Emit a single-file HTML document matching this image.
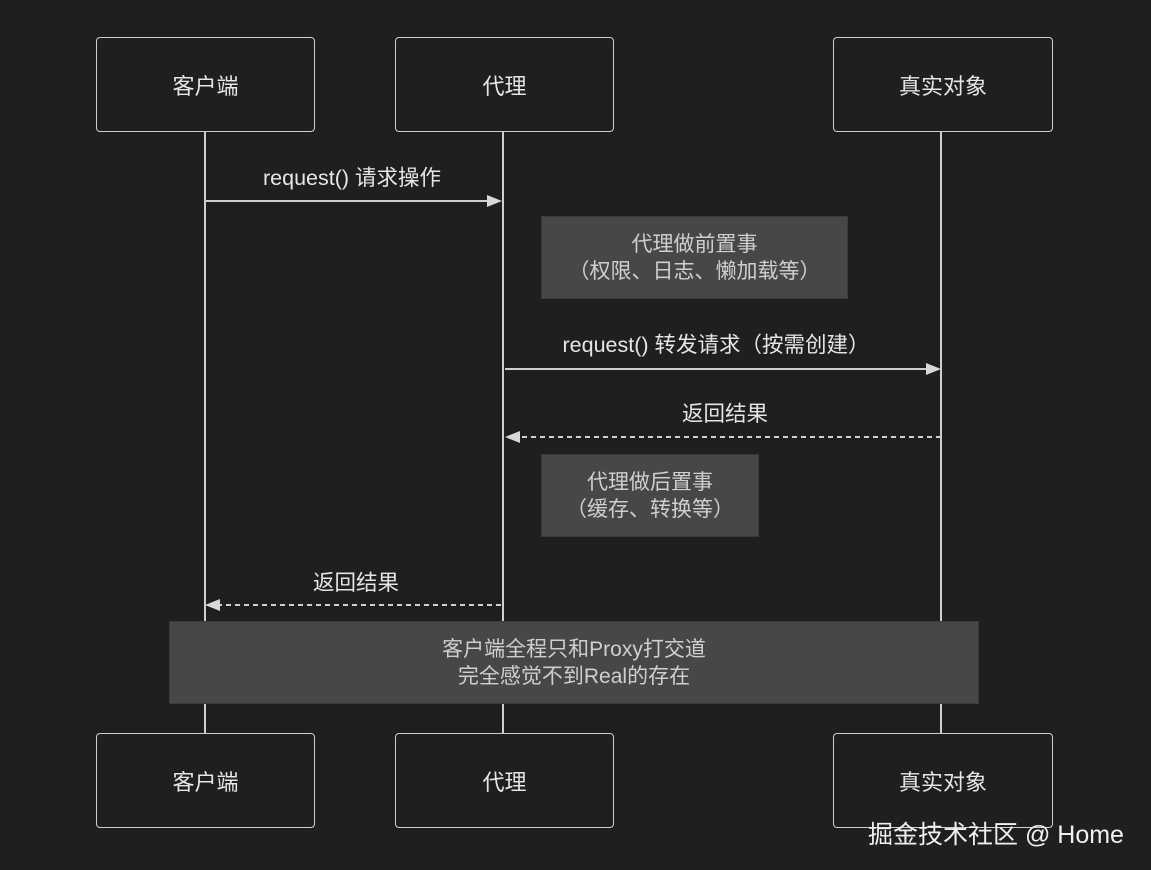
<!DOCTYPE html>
<html><head><meta charset="utf-8"><style>
html,body{margin:0;padding:0;background:#1f1f1f;}
body{width:1151px;height:870px;position:relative;overflow:hidden;font-family:"Liberation Sans","Noto Sans CJK SC",sans-serif;}
.box{position:absolute;border:1.5px solid #cfcfcf;border-radius:4px;box-sizing:border-box;color:#e6e6e6;font-size:22px;display:flex;align-items:center;justify-content:center;background:#1f1f1f;}
.note{position:absolute;background:#474747;border:1px solid #3a3a3a;box-sizing:border-box;color:#cfcfcf;font-size:21px;line-height:27px;text-align:center;display:flex;align-items:center;justify-content:center;}
.lbl{position:absolute;color:#e6e6e6;font-size:21.5px;text-align:center;transform:translateX(-50%);white-space:nowrap;}
</style></head><body>
<svg width="1151" height="870" style="position:absolute;left:0;top:0">
<g stroke="#cfcfcf" stroke-width="2">
<line x1="205" y1="131" x2="205" y2="733"/>
<line x1="503" y1="131" x2="503" y2="733"/>
<line x1="941" y1="131" x2="941" y2="733"/>
<line x1="205" y1="201" x2="488" y2="201"/>
<line x1="505" y1="369" x2="926" y2="369"/>
<line x1="941" y1="437" x2="520" y2="437" stroke-dasharray="5,4"/>
<line x1="501" y1="605" x2="220" y2="605" stroke-dasharray="5,4"/>
</g>
<g fill="#d8d8d8">
<polygon points="502,201 487,195 487,207"/>
<polygon points="941,369 926,363 926,375"/>
<polygon points="505,437 520,431 520,443"/>
<polygon points="205,605 220,599 220,611"/>
</g>
</svg>
<div class="box" style="left:96px;top:37px;width:219px;height:95px">客户端</div>
<div class="box" style="left:395px;top:37px;width:219px;height:95px">代理</div>
<div class="box" style="left:833px;top:37px;width:220px;height:95px">真实对象</div>
<div class="box" style="left:96px;top:733px;width:219px;height:95px">客户端</div>
<div class="box" style="left:395px;top:733px;width:219px;height:95px">代理</div>
<div class="box" style="left:833px;top:733px;width:220px;height:95px">真实对象</div>
<div class="lbl" style="left:352px;top:161px">request() 请求操作</div>
<div class="lbl" style="left:716px;top:328px">request() 转发请求（按需创建）</div>
<div class="lbl" style="left:725px;top:397px">返回结果</div>
<div class="lbl" style="left:356px;top:566px">返回结果</div>
<div class="note" style="left:541px;top:216px;width:307px;height:83px">代理做前置事<br>（权限、日志、懒加载等）</div>
<div class="note" style="left:541px;top:454px;width:218px;height:83px">代理做后置事<br>（缓存、转换等）</div>
<div class="note" style="left:169px;top:621px;width:810px;height:83px">客户端全程只和Proxy打交道<br>完全感觉不到Real的存在</div>
<div style="position:absolute;left:868px;top:815px;color:#f0f0f0;font-size:25px;white-space:nowrap">掘金技术社区 @ Home</div>
</body></html>
